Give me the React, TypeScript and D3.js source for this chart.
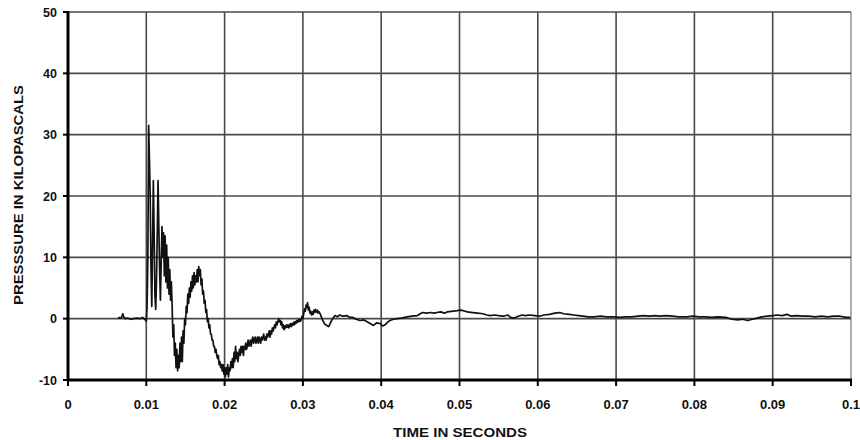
import React from "react";
import * as d3 from "d3";

// Blast overpressure record: time (s) vs. pressure (kPa)
const quiet: [number, number][] = [
  [0.0064, 0.0], [0.0066, 0.2], [0.0068, 0.1], [0.0070, 0.8], [0.0071, 0.3],
  [0.0073, 0.0], [0.0076, 0.1], [0.0080, -0.1], [0.0084, 0.0], [0.0088, 0.1],
  [0.0092, 0.0], [0.0095, 0.2], [0.0098, -0.1], [0.0100, -0.4],
];

const impulse: [number, number][] = [
  [0.0101, 2], [0.0102, 10], [0.0103, 31.5], [0.0104, 26], [0.0105, 20],
  [0.0106, 8], [0.0107, 2], [0.0108, 12], [0.0109, 22.5], [0.0110, 14],
  [0.0111, 4], [0.0112, 1.5], [0.0113, 6], [0.0114, 14], [0.0115, 22.5],
  [0.0116, 15], [0.0117, 8], [0.0118, 3], [0.0119, 9], [0.0120, 15],
  [0.0121, 10], [0.0122, 14], [0.0123, 7], [0.0124, 13.5], [0.0125, 6],
  [0.0126, 12], [0.0127, 5], [0.0128, 10], [0.0129, 4], [0.0130, 8],
  [0.0131, 3], [0.0132, 6], [0.0133, 2], [0.0134, -3], [0.0135, -1],
  [0.0136, -6], [0.0137, -4], [0.0138, -8], [0.0139, -5], [0.0140, -8.5],
  [0.0141, -6], [0.0142, -8], [0.0143, -4], [0.0144, -7], [0.0145, -3],
  [0.0146, -7], [0.0147, -2], [0.0148, -4], [0.0149, 0], [0.0150, -1],
  [0.0151, 2], [0.0152, 1], [0.0153, 4], [0.0154, 2.5], [0.0155, 5],
  [0.0156, 3.5], [0.0157, 6], [0.0158, 4.5], [0.0159, 7], [0.0160, 5],
  [0.0161, 7.5], [0.0162, 5.5], [0.0163, 7], [0.0164, 6], [0.0165, 8],
  [0.0166, 6], [0.0167, 8.5], [0.0168, 7], [0.0169, 8], [0.0170, 5.5],
  [0.0171, 6.5], [0.0172, 4], [0.0173, 4.5], [0.0174, 2.5], [0.0175, 3],
  [0.0176, 1], [0.0177, 1.5], [0.0178, -0.5], [0.0179, 0], [0.0180, -1.5],
  [0.0181, -1], [0.0182, -2.5], [0.0183, -2.5], [0.0184, -3.5], [0.0185, -3.5],
  [0.0186, -4.5], [0.0187, -4.5], [0.0188, -5.5], [0.0189, -5], [0.0190, -6],
  [0.0191, -6.5], [0.0192, -6], [0.0193, -7.5], [0.0194, -7], [0.0195, -8],
  [0.0196, -7.5], [0.0197, -8.5], [0.0198, -7.5], [0.0199, -9], [0.0200, -8],
  [0.0201, -9.5], [0.0202, -8], [0.0203, -9], [0.0204, -7.5], [0.0205, -9.5],
  [0.0206, -8], [0.0207, -8.5], [0.0208, -7], [0.0209, -8], [0.0210, -6.5],
  [0.0211, -8], [0.0212, -5.5], [0.0213, -7], [0.0214, -4.5], [0.0215, -6.5],
  [0.0216, -5.5], [0.0217, -7], [0.0218, -6], [0.0219, -5], [0.0220, -6],
  [0.0221, -4.5], [0.0222, -5.5], [0.0223, -4.5], [0.0224, -6], [0.0225, -4.5],
  [0.0226, -5], [0.0227, -4], [0.0228, -5], [0.0229, -4.5], [0.0230, -3.5],
  [0.0231, -4.5], [0.0232, -4], [0.0233, -3.5], [0.0234, -4.5], [0.0235, -3.5],
  [0.0236, -3], [0.0237, -4], [0.0238, -3.5], [0.0239, -3], [0.0240, -4],
  [0.0241, -3.5], [0.0242, -3], [0.0243, -4], [0.0244, -3], [0.0245, -3.5],
  [0.0246, -4], [0.0247, -3], [0.0248, -3.5], [0.0249, -3], [0.0250, -2.5],
  [0.0251, -3.5], [0.0252, -3], [0.0253, -3.5], [0.0254, -2.5], [0.0255, -3],
  [0.0256, -2.5], [0.0257, -2], [0.0258, -3], [0.0259, -2], [0.0260, -2.5],
  [0.0261, -1.5], [0.0262, -2], [0.0263, -1.5], [0.0264, -1], [0.0265, -1.5],
  [0.0266, -0.5], [0.0267, -1], [0.0268, -0.5], [0.0269, 0], [0.0270, -0.5],
  [0.0271, -0.3], [0.0272, -1], [0.0273, -0.5], [0.0274, -1.5], [0.0275, -1],
  [0.0276, -1.8], [0.0277, -1.2], [0.0278, -1.5], [0.0279, -1], [0.0280, -1.4],
  [0.0281, -1], [0.0282, -1.5], [0.0283, -1.2], [0.0284, -0.8], [0.0285, -1.3],
  [0.0286, -0.8], [0.0287, -1.1], [0.0288, -0.6], [0.0289, -1], [0.0290, -0.5],
  [0.0291, -0.8], [0.0292, -0.3], [0.0293, -0.6], [0.0294, -0.2], [0.0295, -0.5],
  [0.0296, -0.1], [0.0297, -0.4], [0.0298, 0], [0.0299, 0.4], [0.0300, 0],
  [0.0301, 0.8], [0.0302, 1.6], [0.0303, 1.2], [0.0304, 2.2], [0.0305, 1.8],
  [0.0306, 2.6], [0.0307, 1.4], [0.0308, 1.9], [0.0309, 0.9], [0.0310, 1.2],
  [0.0311, 0.6], [0.0312, 1.1], [0.0313, 0.7], [0.0314, 1.4], [0.0315, 1.0],
  [0.0316, 1.5], [0.0317, 1.1], [0.0318, 1.4], [0.0319, 0.9], [0.0320, 1.2],
];

const tail: [number, number][] = [
  [0.0322, 0.8], [0.0325, -0.2], [0.0328, -0.9], [0.0333, -1.3], [0.0337, -0.2],
  [0.0341, 0.5], [0.0344, 0.3], [0.0347, 0.6], [0.0351, 0.4], [0.0356, 0.5],
  [0.0360, 0.2], [0.0364, 0.2], [0.0368, -0.1], [0.0373, -0.3], [0.0378, -0.2],
  [0.0382, -0.5], [0.0386, -0.8], [0.0390, -1.1], [0.0394, -0.7], [0.0399, -0.8],
  [0.0402, -1.2], [0.0405, -1.0], [0.0408, -0.6], [0.0411, -0.3], [0.0416, -0.1],
  [0.0420, 0.0], [0.0426, 0.1], [0.0433, 0.3], [0.0439, 0.4], [0.0446, 0.5],
  [0.0450, 0.8], [0.0453, 1.0], [0.0458, 0.9], [0.0463, 1.0], [0.0468, 0.9],
  [0.0471, 1.0], [0.0476, 1.1], [0.0481, 0.9], [0.0484, 1.1], [0.0490, 1.2],
  [0.0497, 1.3], [0.0501, 1.4], [0.0505, 1.3], [0.0510, 1.1], [0.0517, 1.0],
  [0.0523, 0.9], [0.0530, 0.8], [0.0535, 0.6], [0.0539, 0.5], [0.0545, 0.6],
  [0.0550, 0.5], [0.0556, 0.4], [0.0562, 0.6], [0.0565, 0.2], [0.0570, 0.1],
  [0.0575, 0.4], [0.0580, 0.6], [0.0584, 0.5], [0.0590, 0.6], [0.0596, 0.5],
  [0.0602, 0.4], [0.0608, 0.6], [0.0615, 0.7], [0.0622, 0.9], [0.0628, 1.0],
  [0.0633, 0.8], [0.0640, 0.7], [0.0646, 0.6], [0.0652, 0.5], [0.0658, 0.4],
  [0.0664, 0.3], [0.0672, 0.3], [0.0680, 0.4], [0.0688, 0.3], [0.0696, 0.3],
  [0.0705, 0.2], [0.0712, 0.3], [0.0720, 0.3], [0.0728, 0.4], [0.0735, 0.5],
  [0.0742, 0.4], [0.0750, 0.5], [0.0756, 0.4], [0.0764, 0.5], [0.0772, 0.4],
  [0.0780, 0.3], [0.0790, 0.3], [0.0798, 0.4], [0.0806, 0.3], [0.0814, 0.3],
  [0.0822, 0.2], [0.0830, 0.3], [0.0840, 0.2], [0.0848, -0.1], [0.0855, -0.2],
  [0.0862, -0.1], [0.0868, -0.3], [0.0874, -0.1], [0.0880, 0.1], [0.0886, 0.3],
  [0.0893, 0.4], [0.0900, 0.5], [0.0906, 0.6], [0.0912, 0.5], [0.0918, 0.7],
  [0.0924, 0.4], [0.0930, 0.5], [0.0938, 0.4], [0.0946, 0.4], [0.0954, 0.3],
  [0.0962, 0.4], [0.0970, 0.3], [0.0978, 0.4], [0.0986, 0.4], [0.0994, 0.2],
  [0.0999, 0.2],
];

const xTicks = [0, 0.01, 0.02, 0.03, 0.04, 0.05, 0.06, 0.07, 0.08, 0.09, 0.1];
const xTickLabels = ["0", "0.01", "0.02", "0.03", "0.04", "0.05", "0.06", "0.07", "0.08", "0.09", "0.1"];
const yTicks = [-10, 0, 10, 20, 30, 40, 50];
const yTickLabels = ["-10", "0", "10", "20", "30", "40", "50"];
const xTitle = "TIME IN SECONDS";
const yTitle = "PRESSSURE IN KILOPASCALS";

const W = 860;
const H = 440;
const left = 68;
const right = 851;
const top = 12;
const bottom = 380;
const font = "Arial, 'Liberation Sans', sans-serif";

export default function App() {
  const x = d3.scaleLinear().domain([0, 0.1]).range([left, right]);
  const y = d3.scaleLinear().domain([-10, 50]).range([bottom, top]);
  const signal = [...quiet, ...impulse, ...tail];
  const line = d3
    .line<[number, number]>()
    .x((d) => x(d[0]))
    .y((d) => y(d[1]));

  return (
    <svg
      width={W}
      height={H}
      style={{ position: "absolute", left: 0, top: 0, background: "#fff" }}
    >
      {/* grid */}
      {xTicks.slice(1, -1).map((t) => (
        <line key={"gx" + t} x1={x(t)} x2={x(t)} y1={top} y2={bottom} stroke="#4a4a4a" strokeWidth={1.6} />
      ))}
      <line x1={x(0.1)} x2={x(0.1)} y1={top} y2={bottom} stroke="#9a9a9a" strokeWidth={1.6} />
      {yTicks.slice(1).map((v) => (
        <line key={"gy" + v} x1={left} x2={right} y1={y(v)} y2={y(v)} stroke="#4a4a4a" strokeWidth={1.6} />
      ))}

      {/* trace */}
      <path d={line(signal) ?? ""} fill="none" stroke="#111" strokeWidth={1.7} strokeLinejoin="round" />

      {/* axes */}
      <line x1={left} x2={left} y1={top - 1} y2={bottom + 1} stroke="#000" strokeWidth={3} />
      <line x1={left - 1} x2={right + 1} y1={bottom} y2={bottom} stroke="#000" strokeWidth={3} />
      {yTicks.map((v) => (
        <line key={"ty" + v} x1={left - 5} x2={left} y1={y(v)} y2={y(v)} stroke="#000" strokeWidth={2} />
      ))}
      {xTicks.map((t) => (
        <line key={"tx" + t} x1={x(t)} x2={x(t)} y1={bottom} y2={bottom + 6} stroke="#000" strokeWidth={2} />
      ))}

      {/* tick labels */}
      {yTicks.map((v, i) => (
        <text
          key={"ly" + v}
          x={left - 11}
          y={y(v)}
          dy="0.36em"
          textAnchor="end"
          fontFamily={font}
          fontWeight="bold"
          fontSize={12.5}
          fill="#111"
        >
          {yTickLabels[i]}
        </text>
      ))}
      {xTicks.map((t, i) => (
        <text
          key={"lx" + t}
          x={x(t)}
          y={bottom + 29}
          textAnchor="middle"
          fontFamily={font}
          fontWeight="bold"
          fontSize={13}
          fill="#111"
        >
          {xTickLabels[i]}
        </text>
      ))}

      {/* axis titles */}
      <text
        x={460}
        y={437}
        textAnchor="middle"
        fontFamily={font}
        fontWeight="bold"
        fontSize={12.5}
        textLength={134}
        lengthAdjust="spacingAndGlyphs"
        fill="#111"
      >
        {xTitle}
      </text>
      <text
        transform={`translate(23, 195) rotate(-90)`}
        textAnchor="middle"
        fontFamily={font}
        fontWeight="bold"
        fontSize={12.5}
        textLength={220}
        lengthAdjust="spacingAndGlyphs"
        fill="#111"
      >
        {yTitle}
      </text>
    </svg>
  );
}
